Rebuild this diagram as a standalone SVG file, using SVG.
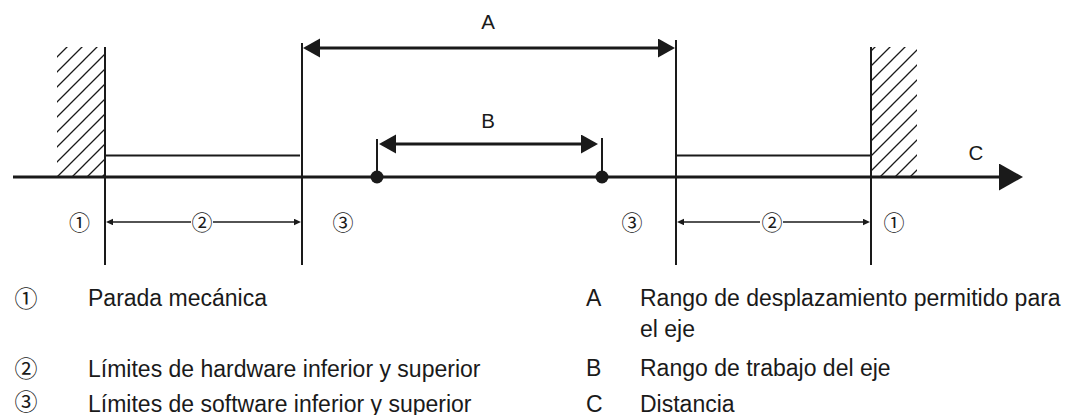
<svg xmlns="http://www.w3.org/2000/svg" width="1082" height="415" viewBox="0 0 1082 415">
<style>
.ln{stroke:#1a1a1a;fill:none}
.axis{stroke-width:3}
.v{stroke-width:2}
.hw{stroke-width:2}
.dim{stroke-width:1.5}
.big{stroke-width:3}
.lbl{font-family:"Liberation Sans",Arial,sans-serif;font-size:20.5px;fill:#1a1a1a;text-anchor:middle}
.leg{font-family:"Liberation Sans",Arial,sans-serif;font-size:23px;fill:#1a1a1a}
.cn{font-family:"Noto Sans CJK SC","DejaVu Sans",sans-serif;fill:#1a1a1a;text-anchor:middle}
.cs{font-size:21px}
.cl{font-size:23px}
</style>
<defs>
<pattern id="hatchL" patternUnits="userSpaceOnUse" x="9" y="0" width="15" height="15">
<path d="M-2,2 L2,-2 M0,15 L15,0 M13,17 L17,13" stroke="#1a1a1a" stroke-width="1.3"/>
</pattern>
<pattern id="hatchR" patternUnits="userSpaceOnUse" x="7" y="0" width="15" height="15">
<path d="M-2,2 L2,-2 M0,15 L15,0 M13,17 L17,13" stroke="#1a1a1a" stroke-width="1.3"/>
</pattern>
<marker id="bigArrow" markerUnits="userSpaceOnUse" markerWidth="18" markerHeight="20" refX="0" refY="9.5" orient="auto-start-reverse" viewBox="0 0 18 20">
<path d="M0,0 L17,9.5 L0,19 Z" fill="#1a1a1a"/>
</marker>
<marker id="smallArrow" markerUnits="userSpaceOnUse" markerWidth="8" markerHeight="7" refX="0" refY="3.25" orient="auto-start-reverse" viewBox="0 0 8 7">
<path d="M0,0 L7,3.25 L0,6.5 Z" fill="#1a1a1a"/>
</marker>
<marker id="axisArrow" markerUnits="userSpaceOnUse" markerWidth="25" markerHeight="28" refX="0" refY="13.5" orient="auto" viewBox="0 0 25 28">
<path d="M0,0 L24,13.5 L0,27 Z" fill="#1a1a1a"/>
</marker>
</defs>

<g id="stop-left">
<rect x="57" y="47" width="47" height="130" fill="url(#hatchL)"/>
<line class="ln v" x1="105" y1="47" x2="105" y2="265"/>
</g>
<g id="stop-right">
<rect x="872" y="47" width="45" height="130" fill="url(#hatchR)"/>
<line class="ln v" x1="871" y1="47" x2="871" y2="265"/>
</g>
<g id="hw-left">
<line class="ln hw" x1="105" y1="155.5" x2="300" y2="155.5"/>
</g>
<g id="hw-right">
<line class="ln hw" x1="677" y1="155.5" x2="871" y2="155.5"/>
</g>
<g id="sw-left">
<line class="ln v" x1="302" y1="43" x2="302" y2="265"/>
</g>
<g id="sw-right">
<line class="ln v" x1="676" y1="40" x2="676" y2="265"/>
</g>
<g id="work-left">
<line class="ln v" x1="377" y1="139" x2="377" y2="177"/>
<circle cx="377" cy="177" r="6.5" fill="#1a1a1a"/>
</g>
<g id="work-right">
<line class="ln v" x1="602" y1="138" x2="602" y2="177"/>
<circle cx="602" cy="177" r="6.5" fill="#1a1a1a"/>
</g>

<g id="connectors">
<line class="ln axis" x1="13" y1="177" x2="999" y2="177" marker-end="url(#axisArrow)"/>
<line class="ln big" x1="320" y1="48" x2="658" y2="48" marker-start="url(#bigArrow)" marker-end="url(#bigArrow)"/>
<line class="ln big" x1="396" y1="144" x2="581" y2="144" marker-start="url(#bigArrow)" marker-end="url(#bigArrow)"/>
<line class="ln dim" x1="113" y1="222" x2="191" y2="222" marker-start="url(#smallArrow)"/>
<line class="ln dim" x1="213" y1="222" x2="294" y2="222" marker-end="url(#smallArrow)"/>
<line class="ln dim" x1="684" y1="222" x2="760" y2="222" marker-start="url(#smallArrow)"/>
<line class="ln dim" x1="783" y1="222" x2="863" y2="222" marker-end="url(#smallArrow)"/>
</g>

<g id="labels">
<text class="lbl" x="488" y="29">A</text>
<text class="lbl" x="488" y="128">B</text>
<text class="lbl" x="976" y="160">C</text>
<text class="cn cs" x="79.5" y="230">①</text>
<text class="cn cs" x="202" y="230">②</text>
<text class="cn cs" x="343" y="230">③</text>
<text class="cn cs" x="632" y="230">③</text>
<text class="cn cs" x="772" y="230">②</text>
<text class="cn cs" x="894" y="230">①</text>
</g>

<g id="legend">
<text class="cn cl" x="26" y="306.5">①</text>
<text class="leg" x="88" y="306">Parada mecánica</text>
<text class="cn cl" x="26" y="376.5">②</text>
<text class="leg" x="88" y="377">Límites de hardware inferior y superior</text>
<text class="cn cl" x="26" y="410">③</text>
<text class="leg" x="88" y="412">Límites de software inferior y superior</text>
<text class="leg" x="586" y="306">A</text>
<text class="leg" x="640" y="306">Rango de desplazamiento permitido para</text>
<text class="leg" x="640" y="337">el eje</text>
<text class="leg" x="586" y="376">B</text>
<text class="leg" x="640" y="376">Rango de trabajo del eje</text>
<text class="leg" x="586" y="412">C</text>
<text class="leg" x="640" y="412">Distancia</text>
</g>
</svg>
